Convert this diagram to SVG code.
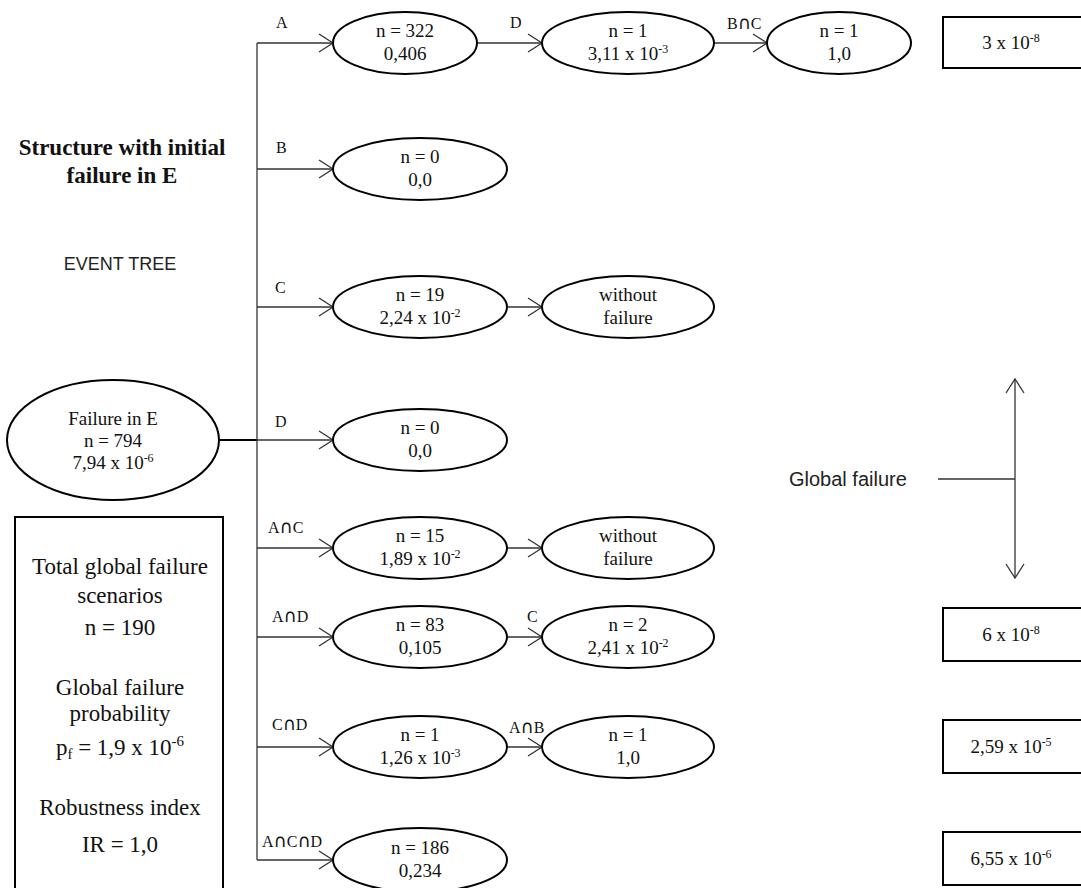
<svg xmlns="http://www.w3.org/2000/svg" width="1081" height="888" viewBox="0 0 1081 888">
<defs>
<marker id="arr" markerUnits="userSpaceOnUse" markerWidth="18" markerHeight="22" refX="15" refY="10" orient="auto-start-reverse">
<path d="M1,1 L15,10 L1,19" fill="none" stroke="#333" stroke-width="1.3"/>
</marker>
<style>
.nd{fill:#fff;stroke:#000;stroke-width:2}
.bx{fill:#fff;stroke:#000;stroke-width:2}
.ln{fill:none;stroke:#333;stroke-width:1.3}
.t{font-family:"Liberation Serif","Times New Roman",serif;font-size:19px;fill:#111;text-anchor:middle}
.lb{font-family:"Liberation Serif","DejaVu Serif",serif;font-size:16px;fill:#111}
.cap{font-family:"DejaVu Sans",sans-serif;font-size:18px}
.bt{font-family:"Liberation Serif","Times New Roman",serif;font-size:19px;fill:#111;text-anchor:middle}
.pt{font-family:"Liberation Serif","Times New Roman",serif;font-size:23px;fill:#111;text-anchor:middle}
.sans{font-family:"Liberation Sans",Arial,sans-serif;fill:#222}
.sup{font-size:12px}
</style>
</defs>
<rect width="1081" height="888" fill="#fff"/>

<g id="title">
<text x="122" y="155" class="pt" font-weight="bold" font-size="22">Structure with initial</text>
<text x="122" y="183" class="pt" font-weight="bold" font-size="22">failure in E</text>
<text x="120" y="270" class="sans" font-size="18" text-anchor="middle">EVENT TREE</text>
</g>

<g id="connectors">
<line x1="219" y1="440" x2="257" y2="440" stroke="#000" stroke-width="2.2"/>
<line class="ln" x1="257" y1="43" x2="257" y2="860"/>
<line class="ln" x1="257" y1="43" x2="333" y2="43" marker-end="url(#arr)"/>
<line class="ln" x1="257" y1="169" x2="333" y2="169" marker-end="url(#arr)"/>
<line class="ln" x1="257" y1="307" x2="333" y2="307" marker-end="url(#arr)"/>
<line class="ln" x1="257" y1="440" x2="333" y2="440" marker-end="url(#arr)"/>
<line class="ln" x1="257" y1="548" x2="333" y2="548" marker-end="url(#arr)"/>
<line class="ln" x1="257" y1="637" x2="333" y2="637" marker-end="url(#arr)"/>
<line class="ln" x1="257" y1="747" x2="333" y2="747" marker-end="url(#arr)"/>
<line class="ln" x1="257" y1="860" x2="333" y2="860" marker-end="url(#arr)"/>
<line class="ln" x1="477" y1="43" x2="542" y2="43" marker-end="url(#arr)"/>
<line class="ln" x1="714" y1="43" x2="767" y2="43" marker-end="url(#arr)"/>
<line class="ln" x1="507" y1="307" x2="542" y2="307" marker-end="url(#arr)"/>
<line class="ln" x1="507" y1="548" x2="542" y2="548" marker-end="url(#arr)"/>
<line class="ln" x1="507" y1="637" x2="542" y2="637" marker-end="url(#arr)"/>
<line class="ln" x1="507" y1="747" x2="542" y2="747" marker-end="url(#arr)"/>
<text class="lb" x="276" y="28">A</text>
<text class="lb" x="276" y="153">B</text>
<text class="lb" x="275" y="293">C</text>
<text class="lb" x="275" y="427">D</text>
<text class="lb" x="268" y="533">A<tspan class="cap">∩</tspan>C</text>
<text class="lb" x="272" y="622">A<tspan class="cap">∩</tspan>D</text>
<text class="lb" x="272" y="730">C<tspan class="cap">∩</tspan>D</text>
<text class="lb" x="262" y="847">A<tspan class="cap">∩</tspan>C<tspan class="cap">∩</tspan>D</text>
<text class="lb" x="510" y="28">D</text>
<text class="lb" x="727" y="29">B<tspan class="cap">∩</tspan>C</text>
<text class="lb" x="527" y="622">C</text>
<text class="lb" x="509" y="733">A<tspan class="cap">∩</tspan>B</text>
</g>

<g id="n-root">
<ellipse class="nd" cx="113" cy="440" rx="106" ry="60"/>
<text class="t" x="113" y="425">Failure in E</text>
<text class="t" x="113" y="447">n = 794</text>
<text class="t" x="113" y="469">7,94 x 10<tspan class="sup" dy="-7">-6</tspan></text>
</g>

<g id="n-a">
<ellipse class="nd" cx="405" cy="43" rx="72" ry="31"/>
<text class="t" x="405" y="37">n = 322</text>
<text class="t" x="405" y="60">0,406</text>
</g>
<g id="n-a-d">
<ellipse class="nd" cx="628" cy="43" rx="86" ry="31"/>
<text class="t" x="628" y="37">n = 1</text>
<text class="t" x="628" y="60">3,11 x 10<tspan class="sup" dy="-7">-3</tspan></text>
</g>
<g id="n-a-d-bc">
<ellipse class="nd" cx="839" cy="43" rx="72" ry="31"/>
<text class="t" x="839" y="37">n = 1</text>
<text class="t" x="839" y="60">1,0</text>
</g>

<g id="n-b">
<ellipse class="nd" cx="420" cy="169" rx="87" ry="31"/>
<text class="t" x="420" y="163">n = 0</text>
<text class="t" x="420" y="186">0,0</text>
</g>

<g id="n-c">
<ellipse class="nd" cx="420" cy="307" rx="87" ry="31"/>
<text class="t" x="420" y="301">n = 19</text>
<text class="t" x="420" y="324">2,24 x 10<tspan class="sup" dy="-7">-2</tspan></text>
</g>
<g id="n-c-ok">
<ellipse class="nd" cx="628" cy="307" rx="86" ry="31"/>
<text class="t" x="628" y="301">without</text>
<text class="t" x="628" y="324">failure</text>
</g>

<g id="n-d">
<ellipse class="nd" cx="420" cy="440" rx="87" ry="31"/>
<text class="t" x="420" y="434">n = 0</text>
<text class="t" x="420" y="457">0,0</text>
</g>

<g id="n-ac">
<ellipse class="nd" cx="420" cy="548" rx="87" ry="31"/>
<text class="t" x="420" y="542">n = 15</text>
<text class="t" x="420" y="565">1,89 x 10<tspan class="sup" dy="-7">-2</tspan></text>
</g>
<g id="n-ac-ok">
<ellipse class="nd" cx="628" cy="548" rx="86" ry="31"/>
<text class="t" x="628" y="542">without</text>
<text class="t" x="628" y="565">failure</text>
</g>

<g id="n-ad">
<ellipse class="nd" cx="420" cy="637" rx="87" ry="31"/>
<text class="t" x="420" y="631">n = 83</text>
<text class="t" x="420" y="654">0,105</text>
</g>
<g id="n-ad-c">
<ellipse class="nd" cx="628" cy="637" rx="86" ry="31"/>
<text class="t" x="628" y="631">n = 2</text>
<text class="t" x="628" y="654">2,41 x 10<tspan class="sup" dy="-7">-2</tspan></text>
</g>

<g id="n-cd">
<ellipse class="nd" cx="420" cy="747" rx="87" ry="31"/>
<text class="t" x="420" y="741">n = 1</text>
<text class="t" x="420" y="764">1,26 x 10<tspan class="sup" dy="-7">-3</tspan></text>
</g>
<g id="n-cd-ab">
<ellipse class="nd" cx="628" cy="747" rx="86" ry="31"/>
<text class="t" x="628" y="741">n = 1</text>
<text class="t" x="628" y="764">1,0</text>
</g>

<g id="n-acd">
<ellipse class="nd" cx="420" cy="860" rx="87" ry="32"/>
<text class="t" x="420" y="854">n = 186</text>
<text class="t" x="420" y="877">0,234</text>
</g>

<g id="summary">
<rect class="bx" x="15" y="517" width="208" height="390"/>
<text class="pt" x="120" y="574">Total global failure</text>
<text class="pt" x="120" y="603">scenarios</text>
<text class="pt" x="120" y="635">n = 190</text>
<text class="pt" x="120" y="695">Global failure</text>
<text class="pt" x="120" y="721">probability</text>
<text class="pt" x="120" y="755">p<tspan font-size="15" dy="4">f</tspan><tspan dy="-4"> = 1,9 x 10</tspan><tspan font-size="15" dy="-9">-6</tspan></text>
<text class="pt" x="120" y="815">Robustness index</text>
<text class="pt" x="120" y="852">IR = 1,0</text>
</g>

<g id="global-failure">
<text x="789" y="486" class="sans" font-size="20">Global failure</text>
<line class="ln" x1="938" y1="479" x2="1015" y2="479"/>
<line class="ln" x1="1015" y1="379" x2="1015" y2="578" marker-start="url(#arr)" marker-end="url(#arr)"/>
</g>

<g id="p1">
<rect class="bx" x="943" y="17" width="150" height="51"/>
<text class="bt" x="1011" y="49">3 x 10<tspan class="sup" dy="-7">-8</tspan></text>
</g>
<g id="p2">
<rect class="bx" x="943" y="608" width="150" height="53"/>
<text class="bt" x="1011" y="641">6 x 10<tspan class="sup" dy="-7">-8</tspan></text>
</g>
<g id="p3">
<rect class="bx" x="943" y="720" width="150" height="53"/>
<text class="bt" x="1011" y="753">2,59 x 10<tspan class="sup" dy="-7">-5</tspan></text>
</g>
<g id="p4">
<rect class="bx" x="943" y="832" width="150" height="53"/>
<text class="bt" x="1011" y="865">6,55 x 10<tspan class="sup" dy="-7">-6</tspan></text>
</g>
</svg>
